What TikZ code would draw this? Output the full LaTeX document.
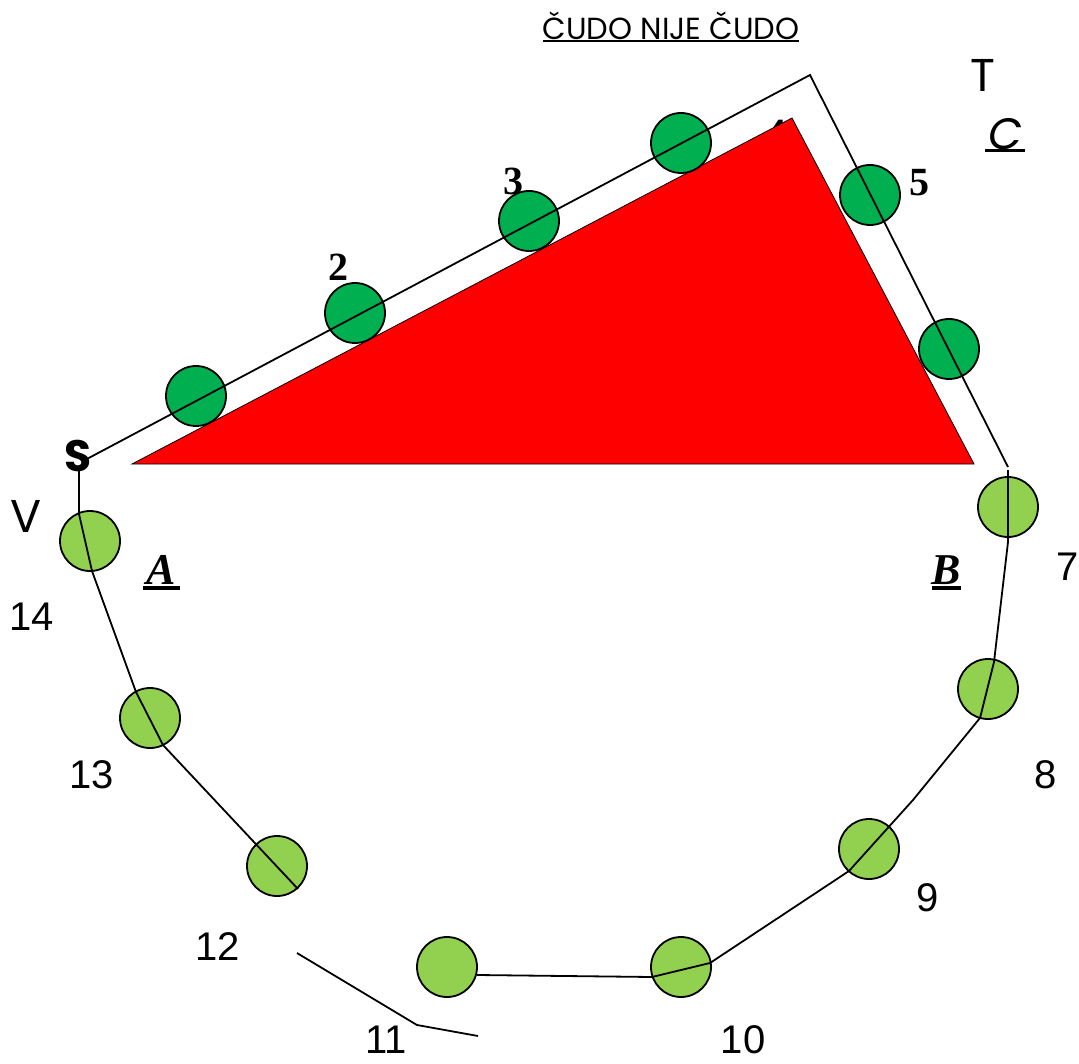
\documentclass[tikz,border=0pt]{standalone}
\usepackage{fontspec}
\setmainfont{Liberation Serif}
\newfontfamily\gothic{Poppins}
\newfontfamily\arialfont{Liberation Sans}
\usetikzlibrary{positioning}
\definecolor{beadgreen}{HTML}{00B050}
\definecolor{lightbead}{HTML}{92D050}

\begin{document}
\begin{tikzpicture}[x=1pt, y=-1pt,
    bead/.style={circle, draw, line width=1.8pt, minimum size=60pt, inner sep=0pt},
    topbead/.style={bead, fill=beadgreen},
    lowbead/.style={bead, fill=lightbead},
    rope/.style={line width=1.8pt},
    numlbl/.style={font=\arialfont\fontsize{40}{48}\selectfont, inner sep=0pt},
    toplbl/.style={font=\bfseries\fontsize{40}{48}\selectfont, inner sep=0pt},
    gothlbl/.style={font=\gothic\fontsize{46}{52}\selectfont, inner sep=0pt},
    cornerlbl/.style={font=\bfseries\itshape\fontsize{44}{50}\selectfont, inner sep=0pt},
]
    \useasboundingbox (0,0) rectangle (1079,1064);

    % label 4 sits under the triangle
    \node[toplbl] (n4) at (776,133) {4};

    \coordinate (tA) at (132,464);
    \coordinate (tC) at (792,118);
    \coordinate (tB) at (974,464);
    \fill[red, draw=black, line width=0.8pt] (tA) -- (tC) -- (tB) -- cycle;

    % upper beads
    \node[topbead] (b1) at (196,396) {};
    \node[topbead] (b2) at (355,313) {};
    \node[topbead] (b3) at (529,221) {};
    \node[topbead] (b4) at (681,143) {};
    \node[topbead] (b5) at (870,195) {};
    \node[topbead] (b6) at (949,349) {};

    % lower beads
    \node[lowbead] (b7) at (1008,507) {};
    \node[lowbead] (b8) at (988,689) {};
    \node[lowbead] (b9) at (869,849) {};
    \node[lowbead] (b10) at (681,967) {};
    \node[lowbead] (b11) at (447,967) {};
    \node[lowbead] (b12) at (277,866) {};
    \node[lowbead] (b13) at (150,718) {};
    \node[lowbead] (b14) at (90,541) {};

    % frame over the triangle
    \coordinate (pS) at (85,460);
    \coordinate (pT) at (810,75);
    \coordinate (pR) at (1008,467);
    \draw[rope] (pS) -- (pT) -- (pR);

    % chain round the bottom
    \coordinate (r0) at (1008,470);
    \coordinate (r1) at (1008,542);
    \coordinate (r2) at (994,662);
    \coordinate (r3) at (980,718);
    \coordinate (r4) at (913,800);
    \coordinate (r5) at (849,871);
    \coordinate (r6) at (710,963);
    \coordinate (r7) at (652,977);
    \coordinate (r8) at (477,975);
    \draw[rope] (r0) -- (r1) -- (r2) -- (r3) -- (r4) -- (r5) -- (r6) -- (r7) -- (r8);

    \coordinate (m0) at (297,953);
    \coordinate (m1) at (417,1025);
    \coordinate (m2) at (478,1036);
    \draw[rope] (m0) -- (m1) -- (m2);

    \coordinate (l0) at (79,467);
    \coordinate (l1) at (79,514);
    \coordinate (l2) at (92,571);
    \coordinate (l3) at (136,692);
    \coordinate (l4) at (163,745);
    \coordinate (l5) at (298,889);
    \draw[rope] (l0) -- (l1) -- (l2) -- (l3) -- (l4) -- (l5);

    % numbers
    \node[toplbl] (n2) at (338,267) {2};
    \node[toplbl] (n3) at (513,181) {3};
    \node[toplbl] (n5) at (919,183) {5};
    \node[numlbl] (n7) at (1068,567) {7};
    \node[numlbl] (n8) at (1046,775) {8};
    \node[numlbl] (n9) at (928,898) {9};
    \node[numlbl] (n10) at (743,1040) {10};
    \node[numlbl] (n11) at (386,1040) {11};
    \node[numlbl] (n12) at (218,947) {12};
    \node[numlbl] (n13) at (92,775) {13};
    \node[numlbl] (n14) at (32,617) {14};

    % letters
    \node[gothlbl] (lT) at (983,75) {T};
    \node[gothlbl] (lV) at (26,516) {V};
    \node[gothlbl, font=\gothic\bfseries\fontsize{44}{50}\selectfont] (lS) at (78,456) {S};
    \node[gothlbl, font=\gothic\itshape\fontsize{44}{50}\selectfont] (lC) at (1005,134) {C};
    \draw[line width=3pt] (985,151) -- (1025,151);
    \node[cornerlbl] (lA) at (161,570) {A};
    \draw[line width=3.5pt] (143,588) -- (180,588);
    \node[cornerlbl] (lB) at (946,570) {B};
    \draw[line width=3.5pt] (932,588) -- (961,588);

    % title
    \node[font=\gothic\fontsize{30.5}{34}\selectfont, inner sep=0pt] (title) at (671,26) {ČUDO NIJE ČUDO};
    \draw[line width=1.8pt] (543,41) -- (799,41);
\end{tikzpicture}
\end{document}
